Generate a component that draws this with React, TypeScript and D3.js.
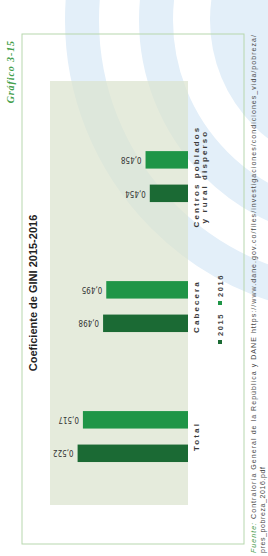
import React, { useEffect, useRef } from 'react';
import * as d3 from 'd3';

// GINI coefficient by zone, 2015 vs 2016
const categories = ["Total", "Cabecera", "Centros poblados|y rural disperso"];
const years = ["2015", "2016"];
const values2015 = [0.522, 0.498, 0.454];
const values2016 = [0.517, 0.495, 0.458];
const yearColors = ["#1b6a34", "#1f9547"];

const title = "Coeficiente de GINI 2015-2016";
const chartNumber = "Gráfico 3-15";
const sourceLine1 = "Contraloría General de la República y DANE https://www.dane.gov.co/files/investigaciones/condiciones_vida/pobreza/";
const sourceLine2 = "pres_pobreza_2016.pdf";

export default function App() {
    const ref = useRef<SVGSVGElement>(null);

    useEffect(() => {
        const root = d3.select(ref.current);
        root.selectAll("*").remove();

        // page size (portrait photo of a landscape page)
        const pageW = 268;
        const pageH = 556;

        root.append("rect").attr("width", pageW).attr("height", pageH).attr("fill", "#fff");

        // light blue watermark arcs behind everything
        const arcs = root.append("g");
        [278, 204].forEach(r => {
            arcs.append("circle")
                .attr("cx", 360).attr("cy", 20).attr("r", r)
                .attr("fill", "none")
                .attr("stroke", "#e3eff9")
                .attr("stroke-width", 34);
        });
        arcs.append("circle")
            .attr("cx", 360).attr("cy", 20).attr("r", 150)
            .attr("fill", "#e3eff9");

        // everything else is drawn in landscape coords, then turned a quarter left
        const g = root.append("g").attr("transform", `translate(0,${pageH}) rotate(-90)`);

        // frame
        g.append("rect")
            .attr("x", 12).attr("y", 22)
            .attr("width", 510).attr("height", 222)
            .attr("fill", "none")
            .attr("stroke", "#b7d7ae")
            .attr("stroke-width", 1);

        // plot area
        const plot = { left: 51, right: 475, top: 50, bottom: 188 };
        g.append("rect")
            .attr("x", plot.left).attr("y", plot.top)
            .attr("width", plot.right - plot.left)
            .attr("height", plot.bottom - plot.top)
            .attr("fill", "#dbe3cf")
            .attr("opacity", 0.72);

        const x0 = d3.scaleBand()
            .domain(categories)
            .range([plot.left, plot.right])
            .paddingInner(0.608)
            .paddingOuter(0.435)
            .align(0.38);

        const x1 = d3.scaleBand()
            .domain(years)
            .range([0, x0.bandwidth()])
            .paddingInner(0.478);

        const y = d3.scaleLinear()
            .domain([0.418, 0.548])
            .range([plot.bottom, plot.top]);

        const fmt = (v: number) => d3.format(".3f")(v).replace(".", ",");

        const rows = categories.flatMap((c, i) => [
            { cat: c, year: years[0], value: values2015[i], color: yearColors[0] },
            { cat: c, year: years[1], value: values2016[i], color: yearColors[1] },
        ]);

        // bars
        g.selectAll("rect.bar")
            .data(rows)
            .join("rect")
            .attr("class", "bar")
            .attr("x", d => (x0(d.cat) as number) + (x1(d.year) as number))
            .attr("y", d => y(d.value))
            .attr("width", x1.bandwidth())
            .attr("height", d => plot.bottom - y(d.value))
            .attr("fill", d => d.color);

        // value labels, turned so they read upward from the bar top
        g.selectAll("text.val")
            .data(rows)
            .join("text")
            .attr("class", "val")
            .attr("transform", d => {
                const cx = (x0(d.cat) as number) + (x1(d.year) as number) + x1.bandwidth() / 2;
                return `translate(${cx},${y(d.value) - 4}) rotate(-90)`;
            })
            .attr("text-anchor", "start")
            .attr("dy", "0.35em")
            .attr("font-family", "'Liberation Sans Narrow', 'DejaVu Sans Condensed', sans-serif")
            .attr("font-size", 8)
            .attr("fill", "#333")
            .text(d => fmt(d.value));

        // category labels
        const catText = g.selectAll("text.cat")
            .data(categories)
            .join("text")
            .attr("class", "cat")
            .attr("text-anchor", "middle")
            .attr("font-family", "'Liberation Sans', Arial, sans-serif")
            .attr("font-weight", "bold")
            .attr("font-size", 8)
            .attr("letter-spacing", 2.1)
            .attr("fill", "#3a3a3a");
        catText.each(function (d) {
            const cx = (x0(d) as number) + x0.bandwidth() / 2;
            d.split("|").forEach((line, k) => {
                d3.select(this).append("tspan")
                    .attr("x", cx)
                    .attr("y", 199 + k * 8)
                    .text(line);
            });
        });

        // legend
        const legendX = [212, 251];
        years.forEach((yr, i) => {
            g.append("rect")
                .attr("x", legendX[i]).attr("y", 218)
                .attr("width", 4).attr("height", 4)
                .attr("fill", yearColors[i]);
            g.append("text")
                .attr("x", legendX[i] + 8).attr("y", 222.5)
                .attr("font-family", "'Liberation Sans', Arial, sans-serif")
                .attr("font-weight", "bold")
                .attr("font-size", 7.5)
                .attr("letter-spacing", 1.6)
                .attr("fill", "#444")
                .text(yr);
        });

        // title
        g.append("text")
            .attr("x", (plot.left + plot.right) / 2)
            .attr("y", 37)
            .attr("text-anchor", "middle")
            .attr("font-family", "'Liberation Sans', Arial, sans-serif")
            .attr("font-weight", "bold")
            .attr("font-size", 11)
            .attr("fill", "#222")
            .text(title);

        // chart number, top right of the page
        g.append("text")
            .attr("x", 516)
            .attr("y", 14)
            .attr("text-anchor", "end")
            .attr("font-family", "'Liberation Serif', serif")
            .attr("font-style", "italic")
            .attr("font-weight", "bold")
            .attr("font-size", 10)
            .attr("letter-spacing", 0.9)
            .attr("fill", "#45a04c")
            .text(chartNumber);

        // source
        const src = g.append("text")
            .attr("x", 3)
            .attr("y", 256)
            .attr("font-family", "'Liberation Sans', Arial, sans-serif")
            .attr("font-size", 7)
            .attr("fill", "#4a4a4a")
            .attr("textLength", 518)
            .attr("lengthAdjust", "spacing");
        src.append("tspan")
            .attr("fill", "#3f9a48")
            .attr("font-style", "italic")
            .text("Fuente:");
        src.append("tspan").text(" " + sourceLine1);

        g.append("text")
            .attr("x", 3)
            .attr("y", 265)
            .attr("font-family", "'Liberation Sans', Arial, sans-serif")
            .attr("font-size", 7)
            .attr("fill", "#4a4a4a")
            .attr("textLength", 86)
            .attr("lengthAdjust", "spacing")
            .text(sourceLine2);
    }, []);

    return (
        <svg ref={ref} width={268} height={556}
            style={{ position: "absolute", left: 0, top: 0, display: "block" }} />
    );
}
